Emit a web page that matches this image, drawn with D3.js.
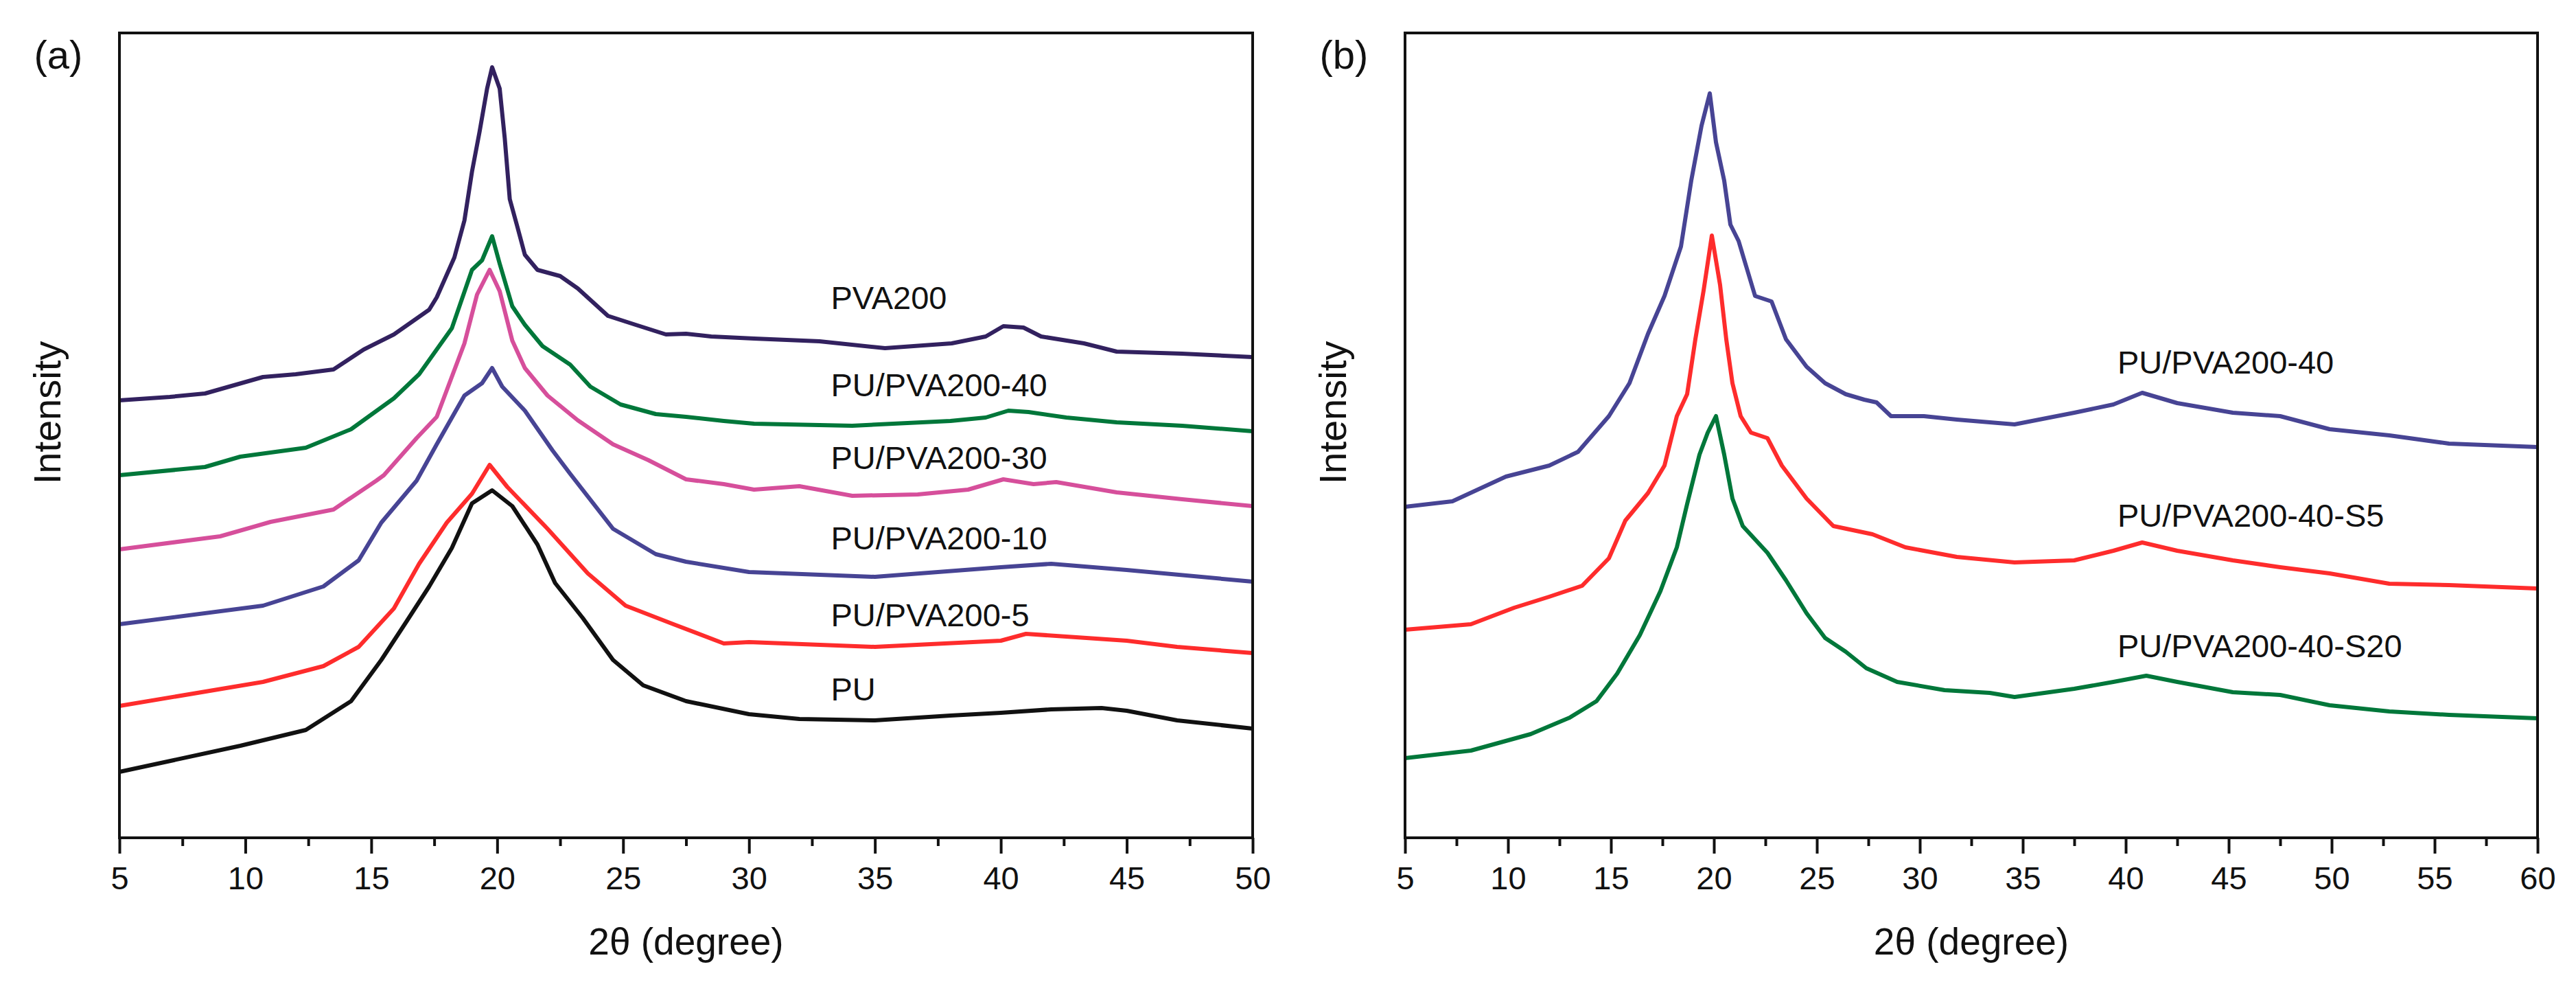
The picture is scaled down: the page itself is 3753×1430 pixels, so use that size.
<!DOCTYPE html>
<html>
<head>
<meta charset="utf-8">
<script src="https://cdn.jsdelivr.net/npm/d3@7"></script>
<style>
  body { margin: 0; background: #fff; }
  svg { display: block; }
  text { font-family: "Liberation Sans", Arial, sans-serif; fill: #111; }
</style>
</head>
<body>
<svg id="chart"></svg>
<script>
// ---- data (2θ in degree, intensity in a.u.) ----

// panel (a)
const pva200 = [[5,637],[7,642],[8.4,647],[10.7,671],[12,675],[13.5,682],[14.7,711],[15.9,733],[17.3,769],[17.6,787],[18.3,845],[18.7,899],[19.0,970],[19.3,1028],[19.6,1091],[19.8,1122],[20.1,1091],[20.3,1019],[20.5,930],[20.8,890],[21.1,849],[21.6,827],[22.5,818],[23.2,800],[24.4,760],[25.5,747],[26.7,733],[27.5,734],[28.5,730],[30.2,727],[32.8,723],[35.4,713],[38.05,720],[39.4,730],[40.1,745],[40.9,743],[41.6,730],[43.3,720],[44.6,708],[47.2,705],[50,700]]
const pu40 = [[5,528],[8.4,540],[9.8,555],[12.4,568],[14.2,595],[15.9,640],[16.9,675],[18.2,742],[19.0,827],[19.4,841],[19.8,876],[20.1,836],[20.6,774],[21.1,747],[21.8,716],[22.9,689],[23.7,657],[24.9,631],[26.3,617],[27.5,613],[29,607],[30.2,603],[34.1,600],[38.0,607],[39.4,612],[40.3,622],[41.1,620],[42.6,612],[44.6,605],[47.2,600],[50,592]]
const pu30 = [[5,420],[9.0,439],[11.0,460],[13.5,478],[15.2,520],[15.5,528],[16.8,582],[17.6,613],[18.7,720],[19.2,791],[19.7,827],[20.1,796],[20.6,724],[21.1,684],[22.0,644],[23.2,608],[24.6,573],[26.0,550],[27.5,522],[29,515],[30.2,507],[32.0,512],[34.1,498],[36.7,500],[38.7,507],[40.1,522],[41.3,515],[42.2,518],[44.6,503],[47.2,493],[50,483]]
const pu10 = [[5,311],[10.7,338],[13.1,366],[14.5,404],[15.4,459],[16.8,520],[17.6,573],[18.7,644],[19.4,662],[19.8,684],[20.2,657],[21.1,622],[22.2,564],[22.9,530],[24.6,450],[26.3,413],[27.5,402],[30,387],[35,380],[40,394],[42,399],[45,390],[50,373]]
const pu5 = [[5,192],[10.7,227],[13.1,250],[14.5,278],[15.9,334],[16.9,399],[18.0,459],[19.0,501],[19.7,543],[20.4,511],[22.0,450],[23.6,385],[25.1,338],[27.0,311],[29,283],[30,285],[35,278],[40,287],[41,297],[43,292],[45,287],[47,278],[50,269]]
const pu = [[5,96],[9.8,134],[12.4,157],[14.2,199],[15.4,259],[16.4,315],[17.3,366],[18.2,422],[19.0,487],[19.8,506],[20.6,483],[21.6,427],[22.3,371],[23.4,320],[24.6,259],[25.8,222],[27.5,199],[30,180],[32,173],[35,171],[38,178],[40,182],[42,187],[44,189],[45,185],[47,171],[50,159]]

// panel (b)
const b40 = [[5,482],[7.3,490],[9.9,526],[12.0,542],[13.4,562],[14.9,614],[15.9,662],[16.8,734],[17.6,789],[18.4,861],[18.9,957],[19.4,1037],[19.8,1084],[20.1,1013],[20.5,957],[20.8,893],[21.2,869],[21.6,829],[22.0,789],[22.8,781],[23.5,726],[24.5,686],[25.4,662],[26.4,646],[27.3,638],[27.9,634],[28.6,614],[30.2,614],[31.8,609],[34.6,602],[37.5,619],[39.4,631],[40.8,648],[42.5,633],[45.2,619],[47.5,614],[49.9,595],[52.8,586],[55.7,574],[60,569]]
const b40s5 = [[5,303],[8.2,311],[10.3,335],[12.0,351],[13.6,367],[14.9,407],[15.7,462],[16.8,502],[17.6,542],[18.2,614],[18.7,646],[19.1,726],[19.5,797],[19.9,877],[20.3,805],[20.6,726],[20.9,662],[21.3,614],[21.8,590],[22.6,582],[23.3,542],[24.5,494],[25.8,454],[27.7,442],[29.3,423],[31.8,409],[34.6,401],[37.5,404],[39.4,418],[40.8,430],[42.5,418],[45.2,404],[47.5,394],[49.9,385],[52.8,370],[55.7,368],[60,363]]
const b40s20 = [[5,116],[8.2,127],[11.1,151],[13.0,175],[14.3,199],[15.3,239],[16.4,295],[17.4,359],[18.2,423],[18.7,486],[19.3,558],[19.7,590],[20.1,614],[20.5,558],[20.9,494],[21.4,454],[22.6,415],[23.5,375],[24.5,327],[25.4,291],[26.4,271],[27.4,247],[28.9,227],[31.2,215],[33.4,211],[34.6,205],[37.5,217],[39.4,227],[41.0,236],[42.5,227],[45.2,212],[47.5,208],[49.9,193],[52.8,184],[55.7,179],[60,174]]

const namesA = ["PVA200", "PU/PVA200-40", "PU/PVA200-30", "PU/PVA200-10", "PU/PVA200-5", "PU"]
const namesB = ["PU/PVA200-40", "PU/PVA200-40-S5", "PU/PVA200-40-S20"]

const ticksA = [5, 10, 15, 20, 25, 30, 35, 40, 45, 50]
const ticksB = [5, 10, 15, 20, 25, 30, 35, 40, 45, 50, 55, 60]

// ---- drawing ----
const width = 3753, height = 1430
const svg = d3.select('#chart').attr('width', width).attr('height', height)

const plotTop = 48, plotBottom = 1220

function panel(opts) {
    let x = d3.scaleLinear().domain(opts.xDomain).range([opts.left, opts.right])
    let y = d3.scaleLinear().domain([0, 1172]).range([plotBottom, plotTop])
    let g = svg.append('g')

    let line = d3.line().x(d => x(d[0])).y(d => y(d[1]))

    g.selectAll('path.trace')
        .data(opts.series)
        .join('path')
        .attr('class', 'trace')
        .attr('fill', 'none')
        .attr('stroke', (d, i) => opts.colors[i])
        .attr('stroke-width', 6)
        .attr('stroke-linejoin', 'round')
        .attr('d', line)

    // minor ticks
    let minors = d3.range(opts.xDomain[0] + 2.5, opts.xDomain[1], 5)
    g.append('g')
        .attr('transform', `translate(0,${plotBottom})`)
        .call(d3.axisBottom(x).tickValues(minors).tickSize(12).tickFormat(''))
        .call(a => a.select('.domain').remove())
        .call(a => a.selectAll('line').attr('stroke', '#111').attr('stroke-width', 4))

    // major ticks + labels
    g.append('g')
        .attr('transform', `translate(0,${plotBottom})`)
        .call(d3.axisBottom(x).tickValues(opts.ticks).tickSize(23).tickPadding(19).tickSizeOuter(0))
        .call(a => a.select('.domain').remove())
        .call(a => a.selectAll('line').attr('stroke', '#111').attr('stroke-width', 4))
        .call(a => a.selectAll('text')
            .style('font-family', '"Liberation Sans", Arial, sans-serif')
            .attr('font-size', 47)
            .attr('fill', '#111'))

    // frame
    g.append('rect')
        .attr('x', opts.left).attr('y', plotTop)
        .attr('width', opts.right - opts.left).attr('height', plotBottom - plotTop)
        .attr('fill', 'none').attr('stroke', '#111').attr('stroke-width', 4)

    // curve labels
    g.selectAll('text.lbl')
        .data(opts.names)
        .join('text')
        .attr('class', 'lbl')
        .attr('x', x(opts.labelX))
        .attr('y', (d, i) => y(opts.labelY[i]))
        .attr('font-size', 47)
        .text(d => d)

    // axis titles
    g.append('text')
        .attr('x', (opts.left + opts.right) / 2)
        .attr('y', 1390)
        .attr('text-anchor', 'middle')
        .attr('font-size', 55)
        .text('2θ (degree)')

    g.append('text')
        .attr('transform', `translate(${opts.left - 86},601) rotate(-90)`)
        .attr('text-anchor', 'middle')
        .attr('font-size', 56)
        .text('Intensity')

    g.append('text')
        .attr('x', opts.left - 89)
        .attr('y', 100)
        .attr('text-anchor', 'middle')
        .attr('font-size', 58)
        .text(opts.tag)
}

panel({
    tag: '(a)',
    left: 174, right: 1825,
    xDomain: [5, 50],
    ticks: ticksA,
    series: [pva200, pu40, pu30, pu10, pu5, pu],
    colors: ['#32215f', '#00773a', '#d64f9b', '#474494', '#fe2c2c', '#111111'],
    names: namesA,
    labelX: 33.25,
    labelY: [770, 643, 537, 420, 308, 200]
})

panel({
    tag: '(b)',
    left: 2047, right: 3697,
    xDomain: [5, 60],
    ticks: ticksB,
    series: [b40, b40s5, b40s20],
    colors: ['#474494', '#fe2c2c', '#00773a'],
    names: namesB,
    labelX: 39.6,
    labelY: [676, 453, 263]
})
</script>
</body>
</html>
